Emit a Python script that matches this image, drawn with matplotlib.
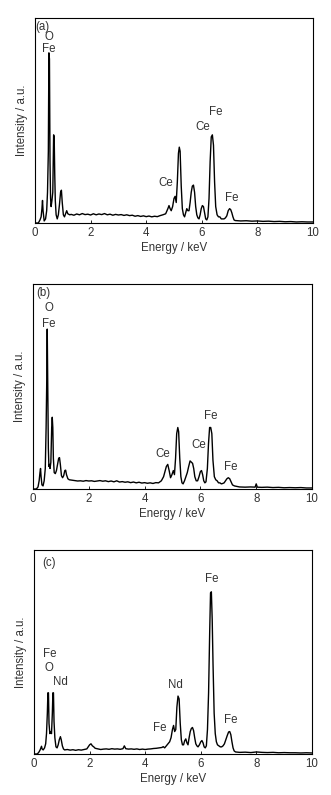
import matplotlib
matplotlib.use("Agg")
import matplotlib.pyplot as plt

plt.rcParams['font.family'] = ['Liberation Sans', 'DejaVu Sans']

# ---------------- data (intensity as fraction of axis height) ----------------
energy_a = [0.00, 0.12, 0.18, 0.22, 0.25, 0.27, 0.29, 0.33, 0.38, 0.42, 0.45, 0.48, 0.50, 0.52, 0.54,
            0.56, 0.58, 0.61, 0.64, 0.67, 0.69, 0.71, 0.73, 0.76, 0.80, 0.84, 0.88, 0.92, 0.95, 0.98,
            1.02, 1.06, 1.10, 1.14, 1.18, 1.25, 1.3, 1.4, 1.5, 1.6, 1.7, 1.8, 1.9, 2.0, 2.1, 2.2, 2.3,
            2.4, 2.5, 2.6, 2.7, 2.8, 2.9, 3.0, 3.1, 3.2, 3.3, 3.4, 3.5, 3.6, 3.7, 3.8, 3.9, 4.0, 4.1,
            4.2, 4.3, 4.4, 4.5, 4.6, 4.7, 4.78, 4.82, 4.86, 4.90, 4.95, 5.00, 5.04, 5.08, 5.12, 5.16,
            5.19, 5.22, 5.26, 5.30, 5.34, 5.38, 5.42, 5.46, 5.50, 5.54, 5.58, 5.62, 5.66, 5.70, 5.74,
            5.78, 5.82, 5.86, 5.90, 5.94, 5.98, 6.02, 6.06, 6.10, 6.14, 6.18, 6.22, 6.26, 6.30, 6.34,
            6.38, 6.42, 6.46, 6.50, 6.55, 6.60, 6.65, 6.70, 6.75, 6.80, 6.85, 6.90, 6.95, 7.00, 7.04,
            7.08, 7.12, 7.16, 7.20, 7.4, 7.6, 7.8, 8.0, 8.2, 8.4, 8.6, 8.8, 9.0, 9.2, 9.4, 9.6, 9.8, 10.0]
intensity_a = [0.000, 0.000, 0.015, 0.030, 0.070, 0.110, 0.060, 0.010, 0.020, 0.060, 0.150, 0.350, 0.830, 0.800, 0.300,
               0.120, 0.080, 0.110, 0.150, 0.430, 0.420, 0.240, 0.110, 0.040, 0.020, 0.040, 0.090, 0.150, 0.160, 0.100,
               0.040, 0.030, 0.045, 0.060, 0.045, 0.040, 0.042, 0.038, 0.044, 0.040, 0.046, 0.041, 0.043, 0.039, 0.045, 0.040, 0.044,
               0.041, 0.046, 0.040, 0.043, 0.038, 0.042, 0.039, 0.041, 0.037, 0.040, 0.036, 0.038, 0.033, 0.036, 0.032, 0.035, 0.031, 0.034,
               0.030, 0.033, 0.031, 0.036, 0.040, 0.045, 0.070, 0.085, 0.070, 0.060, 0.080, 0.120, 0.130, 0.100, 0.200, 0.340,
               0.370, 0.350, 0.180, 0.070, 0.040, 0.030, 0.050, 0.070, 0.060, 0.060, 0.100, 0.150, 0.180, 0.185, 0.150,
               0.080, 0.040, 0.025, 0.020, 0.040, 0.070, 0.085, 0.080, 0.050, 0.020, 0.015, 0.030, 0.120, 0.300, 0.420,
               0.430, 0.380, 0.200, 0.080, 0.040, 0.030, 0.030, 0.020, 0.020, 0.020, 0.025, 0.035, 0.060, 0.070, 0.065,
               0.050, 0.030, 0.015, 0.012, 0.010, 0.011, 0.009, 0.010, 0.008, 0.009, 0.007, 0.008, 0.006, 0.007, 0.005, 0.006, 0.005, 0.005]

energy_b = [0.00, 0.12, 0.18, 0.22, 0.25, 0.27, 0.29, 0.32, 0.36, 0.40, 0.44, 0.47, 0.49, 0.51, 0.53,
            0.55, 0.57, 0.59, 0.61, 0.64, 0.67, 0.69, 0.71, 0.73, 0.76, 0.80, 0.84, 0.88, 0.92, 0.95,
            0.98, 1.02, 1.06, 1.10, 1.14, 1.17, 1.20, 1.25, 1.30, 1.4, 1.5, 1.6, 1.7, 1.8, 1.9, 2.0,
            2.1, 2.2, 2.3, 2.4, 2.5, 2.6, 2.7, 2.8, 2.9, 3.0, 3.1, 3.2, 3.3, 3.4, 3.5, 3.6, 3.7, 3.8,
            3.9, 4.0, 4.1, 4.2, 4.3, 4.4, 4.5, 4.6, 4.68, 4.74, 4.78, 4.83, 4.88, 4.93, 4.98, 5.03,
            5.07, 5.11, 5.15, 5.19, 5.22, 5.26, 5.30, 5.34, 5.38, 5.43, 5.48, 5.53, 5.58, 5.63, 5.68,
            5.72, 5.76, 5.80, 5.85, 5.90, 5.95, 6.00, 6.04, 6.08, 6.12, 6.16, 6.20, 6.25, 6.29, 6.33,
            6.37, 6.41, 6.45, 6.50, 6.55, 6.60, 6.65, 6.70, 6.75, 6.80, 6.85, 6.90, 6.95, 7.00, 7.05,
            7.10, 7.15, 7.22, 7.4, 7.6, 7.8, 7.96, 8.0, 8.04, 8.2, 8.4, 8.6, 8.8, 9.0, 9.2, 9.4, 9.6, 9.8, 10.0]
intensity_b = [0.000, 0.000, 0.010, 0.040, 0.080, 0.100, 0.060, 0.020, 0.015, 0.040, 0.100, 0.300, 0.500, 0.780, 0.480,
               0.200, 0.110, 0.120, 0.100, 0.130, 0.300, 0.350, 0.300, 0.150, 0.080, 0.075, 0.090, 0.120, 0.150, 0.153,
               0.120, 0.065, 0.055, 0.065, 0.090, 0.092, 0.070, 0.050, 0.045, 0.043, 0.041, 0.039, 0.040, 0.038, 0.041, 0.039,
               0.040, 0.037, 0.039, 0.041, 0.038, 0.040, 0.036, 0.039, 0.035, 0.040, 0.034, 0.036, 0.033, 0.035, 0.031, 0.034, 0.030, 0.033,
               0.029, 0.031, 0.028, 0.030, 0.027, 0.031, 0.030, 0.040, 0.060, 0.090, 0.110, 0.120, 0.090, 0.055, 0.070, 0.090,
               0.070, 0.150, 0.270, 0.300, 0.280, 0.150, 0.060, 0.030, 0.025, 0.040, 0.060, 0.080, 0.110, 0.137, 0.130,
               0.125, 0.100, 0.060, 0.040, 0.040, 0.060, 0.085, 0.090, 0.070, 0.040, 0.030, 0.035, 0.100, 0.220, 0.300,
               0.300, 0.270, 0.140, 0.060, 0.045, 0.040, 0.030, 0.030, 0.025, 0.027, 0.030, 0.040, 0.050, 0.055, 0.050,
               0.035, 0.020, 0.015, 0.010, 0.009, 0.010, 0.009, 0.025, 0.009, 0.008, 0.009, 0.007, 0.008, 0.006, 0.007, 0.006, 0.007, 0.005, 0.005]

energy_c = [0.00, 0.12, 0.18, 0.22, 0.25, 0.27, 0.29, 0.33, 0.38, 0.42, 0.45, 0.48, 0.50, 0.52, 0.54,
            0.57, 0.60, 0.63, 0.66, 0.68, 0.70, 0.72, 0.75, 0.79, 0.83, 0.87, 0.91, 0.95, 0.98, 1.02,
            1.06, 1.10, 1.2, 1.3, 1.4, 1.5, 1.6, 1.7, 1.8, 1.9, 1.95, 2.00, 2.05, 2.10, 2.15, 2.20,
            2.3, 2.4, 2.5, 2.6, 2.7, 2.8, 2.9, 3.0, 3.1, 3.2, 3.25, 3.3, 3.4, 3.5, 3.6, 3.7, 3.8, 3.9,
            4.0, 4.1, 4.2, 4.3, 4.4, 4.5, 4.6, 4.65, 4.70, 4.76, 4.82, 4.88, 4.93, 4.98, 5.02, 5.06,
            5.10, 5.14, 5.18, 5.22, 5.26, 5.30, 5.34, 5.38, 5.42, 5.46, 5.50, 5.54, 5.58, 5.62, 5.66,
            5.70, 5.74, 5.78, 5.82, 5.86, 5.90, 5.95, 6.00, 6.04, 6.08, 6.12, 6.16, 6.20, 6.24, 6.28,
            6.32, 6.35, 6.38, 6.41, 6.44, 6.48, 6.52, 6.56, 6.60, 6.65, 6.70, 6.75, 6.80, 6.85, 6.90,
            6.95, 7.00, 7.04, 7.08, 7.12, 7.16, 7.20, 7.25, 7.4, 7.6, 7.8, 8.0, 8.2, 8.4, 8.6, 8.8, 9.0,
            9.2, 9.4, 9.6, 9.8, 10.0]
intensity_c = [0.000, 0.000, 0.010, 0.020, 0.030, 0.038, 0.025, 0.020, 0.030, 0.050, 0.100, 0.200, 0.300, 0.300, 0.150,
               0.100, 0.110, 0.100, 0.200, 0.300, 0.300, 0.160, 0.080, 0.035, 0.030, 0.045, 0.070, 0.085, 0.070, 0.040,
               0.025, 0.020, 0.022, 0.019, 0.021, 0.018, 0.021, 0.019, 0.022, 0.025, 0.035, 0.045, 0.050, 0.040, 0.035, 0.028,
               0.025, 0.022, 0.024, 0.025, 0.023, 0.026, 0.024, 0.025, 0.023, 0.026, 0.040, 0.026, 0.024, 0.025, 0.023, 0.025, 0.022, 0.024,
               0.022, 0.024, 0.025, 0.027, 0.028, 0.030, 0.032, 0.036, 0.030, 0.040, 0.050, 0.060, 0.080, 0.120, 0.140, 0.110,
               0.120, 0.230, 0.284, 0.270, 0.150, 0.070, 0.045, 0.045, 0.065, 0.074, 0.055, 0.045, 0.080, 0.110, 0.125,
               0.130, 0.115, 0.080, 0.050, 0.040, 0.035, 0.045, 0.060, 0.066, 0.055, 0.035, 0.030, 0.040, 0.120, 0.300,
               0.600, 0.790, 0.795, 0.660, 0.440, 0.200, 0.100, 0.060, 0.045, 0.040, 0.035, 0.035, 0.040, 0.050, 0.070,
               0.090, 0.108, 0.110, 0.095, 0.060, 0.030, 0.015, 0.010, 0.008, 0.009, 0.007, 0.010, 0.008, 0.007, 0.008, 0.006, 0.007,
               0.006, 0.006, 0.005, 0.006, 0.005]

# peak labels: (text, energy, intensity-fraction)
labels_a = [("O", 0.49, 0.905), ("Fe", 0.48, 0.848), ("Ce", 4.72, 0.197),
            ("Ce", 6.03, 0.47), ("Fe", 6.49, 0.54), ("Fe", 7.06, 0.12)]
labels_b = [("O", 0.57, 0.885), ("Fe", 0.55, 0.806), ("Ce", 4.65, 0.173),
            ("Ce", 5.95, 0.213), ("Fe", 6.38, 0.355), ("Fe", 7.07, 0.108)]
labels_c = [("Fe", 0.55, 0.489), ("O", 0.53, 0.423), ("Nd", 0.94, 0.352),
            ("Nd", 5.07, 0.336), ("Fe", 4.53, 0.126), ("Fe", 6.39, 0.857), ("Fe", 7.07, 0.167)]
panel_tags = ["(a)", "(b)", "(c)"]
x_ticks = [0, 2, 4, 6, 8, 10]

# ---------------- figure ----------------
fig = plt.figure(figsize=(3.31, 7.95), dpi=100)
positions = [
    [35/331, (795-223)/795, 278/331, 205/795],
    [33/331, (795-489)/795, 279/331, 205/795],
    [34/331, (795-754)/795, 278/331, 204/795],
]
tag_pos = [(0.028, 0.958), (0.038, 0.958), (0.055, 0.938)]
datasets = [(energy_a, intensity_a, labels_a),
            (energy_b, intensity_b, labels_b),
            (energy_c, intensity_c, labels_c)]

fs = 8.3
tc = '#333333'
for pos, (e, inten, labs), tag, tp in zip(positions, datasets, panel_tags, tag_pos):
    ax = fig.add_axes(pos)
    ax.plot(e, inten, color='black', lw=1.0)
    ax.set_xlim(0, 10)
    ax.set_ylim(0, 1)
    ax.set_xticks(x_ticks)
    ax.set_xticklabels([str(t) for t in x_ticks], fontsize=fs, color=tc)
    ax.set_yticks([])
    ax.tick_params(axis='x', direction='in', length=2.5, width=0.6, pad=3)
    for s in ax.spines.values():
        s.set_linewidth(0.8)
    ax.set_xlabel("Energy / keV", fontsize=fs, color=tc, labelpad=2)
    ax.set_ylabel("Intensity / a.u.", fontsize=fs, color=tc, labelpad=5)
    ax.text(tp[0], tp[1], tag, transform=ax.transAxes, fontsize=fs,
            ha='center', va='center', color=tc)
    for txt, x, y in labs:
        ax.text(x, y, txt, fontsize=fs, ha='center', va='center', color=tc)

fig.savefig("out.png", dpi=100)
